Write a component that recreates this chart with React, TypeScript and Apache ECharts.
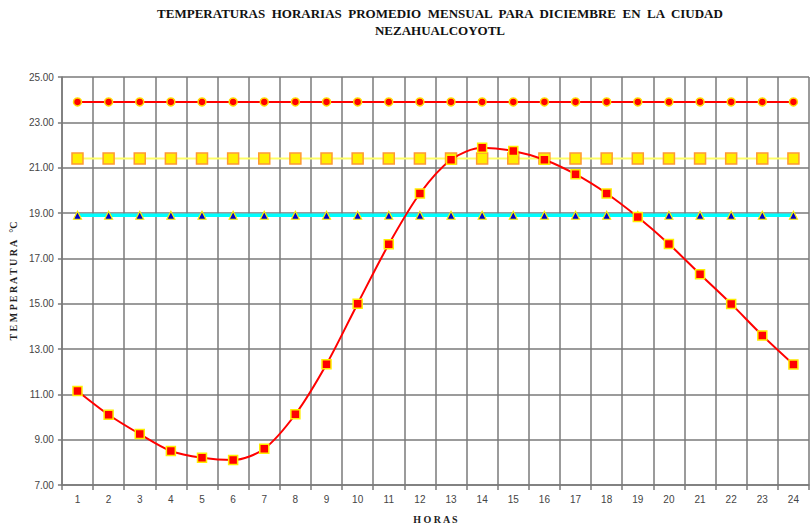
import React, { useEffect, useRef } from "react";
import * as echarts from "echarts";

const hours = ["1","2","3","4","5","6","7","8","9","10","11","12","13","14","15","16","17","18","19","20","21","22","23","24"];
const maxLine = [23.9,23.9,23.9,23.9,23.9,23.9,23.9,23.9,23.9,23.9,23.9,23.9,23.9,23.9,23.9,23.9,23.9,23.9,23.9,23.9,23.9,23.9,23.9,23.9];
const midLine = [21.4,21.4,21.4,21.4,21.4,21.4,21.4,21.4,21.4,21.4,21.4,21.4,21.4,21.4,21.4,21.4,21.4,21.4,21.4,21.4,21.4,21.4,21.4,21.4];
const minLine = [18.9,18.9,18.9,18.9,18.9,18.9,18.9,18.9,18.9,18.9,18.9,18.9,18.9,18.9,18.9,18.9,18.9,18.9,18.9,18.9,18.9,18.9,18.9,18.9];
const hourly = [11.15,10.1,9.25,8.5,8.2,8.1,8.6,10.12,12.33,15.0,17.62,19.86,21.35,21.88,21.74,21.35,20.71,19.86,18.82,17.63,16.3,14.99,13.6,12.32];
const yTicks = { min: 7, max: 25, interval: 2 };

const titleText = "TEMPERATURAS  HORARIAS  PROMEDIO  MENSUAL  PARA  DICIEMBRE  EN  LA  CIUDAD\nNEZAHUALCOYOTL";

export default function App() {
  const ref = useRef<HTMLDivElement>(null);
  useEffect(() => {
    if (!ref.current) return;
    const chart = echarts.init(ref.current, undefined, { renderer: "svg" });
    const gridColor = "#7a7a7a";
    chart.setOption({
      animation: false,
      backgroundColor: "#ffffff",
      title: {
        text: titleText,
        left: 435,
        textAlign: "center",
        top: 0,
        textStyle: {
          fontFamily: "Liberation Serif",
          fontWeight: "bold",
          fontSize: 13,
          lineHeight: 17,
          color: "#111",
        },
      },
      grid: { left: 60, right: 3, top: 77, bottom: 41.5, containLabel: false },
      xAxis: {
        type: "category",
        data: hours,
        boundaryGap: true,
        name: "H O R A S",
        nameLocation: "middle",
        nameGap: 29,
        nameTextStyle: { fontFamily: "Liberation Serif", fontWeight: "bold", fontSize: 10, color: "#222" },
        axisLine: { lineStyle: { color: gridColor, width: 1.5 } },
        axisTick: { show: true, alignWithLabel: false, length: 5, lineStyle: { color: gridColor, width: 1.5 } },
        axisLabel: { fontFamily: "Liberation Sans", fontSize: 10, color: "#444", margin: 9, interval: 0 },
        splitLine: { show: true, interval: 0, lineStyle: { color: gridColor, width: 1.5 } },
      },
      yAxis: {
        type: "value",
        min: yTicks.min,
        max: yTicks.max,
        interval: yTicks.interval,
        name: "T E M P E R A T U R A   °C",
        nameLocation: "middle",
        nameGap: 41,
        nameRotate: 90,
        nameTextStyle: { fontFamily: "Liberation Serif", fontWeight: "bold", fontSize: 10, color: "#222" },
        axisLine: { show: true, lineStyle: { color: gridColor, width: 1.5 } },
        axisTick: { show: true, length: 4, lineStyle: { color: gridColor, width: 1.5 } },
        axisLabel: {
          fontFamily: "Liberation Sans",
          fontSize: 10,
          color: "#444",
          margin: 8,
          formatter: (v: number) => v.toFixed(2),
        },
        splitLine: { show: true, lineStyle: { color: gridColor, width: 1.5 } },
      },
      series: [
        {
          type: "line",
          data: maxLine,
          symbol: "circle",
          symbolSize: 8,
          lineStyle: { color: "#ff0000", width: 2 },
          itemStyle: { color: "#ff0000", borderColor: "#ffd800", borderWidth: 1.5 },
          z: 3,
        },
        {
          type: "line",
          data: midLine,
          symbol: "rect",
          symbolSize: 11,
          lineStyle: { color: "#ffff66", width: 2 },
          itemStyle: { color: "#ffee00", borderColor: "#ff9933", borderWidth: 1.5 },
          z: 3,
        },
        {
          type: "line",
          data: minLine,
          symbol: "triangle",
          symbolSize: 8,
          lineStyle: { color: "#00ffff", width: 3.5 },
          itemStyle: { color: "#0000cc", borderColor: "#ffee00", borderWidth: 1.2 },
          z: 4,
        },
        {
          type: "line",
          data: hourly,
          smooth: 0.3,
          symbol: "rect",
          symbolSize: 9,
          lineStyle: { color: "#ff0000", width: 2 },
          itemStyle: { color: "#ff0000", borderColor: "#ffee00", borderWidth: 1.5 },
          z: 5,
        },
      ],
    });
    return () => chart.dispose();
  }, []);
  return <div ref={ref} style={{ position: "absolute", left: 0, top: 0, width: 812, height: 529 }} />;
}
